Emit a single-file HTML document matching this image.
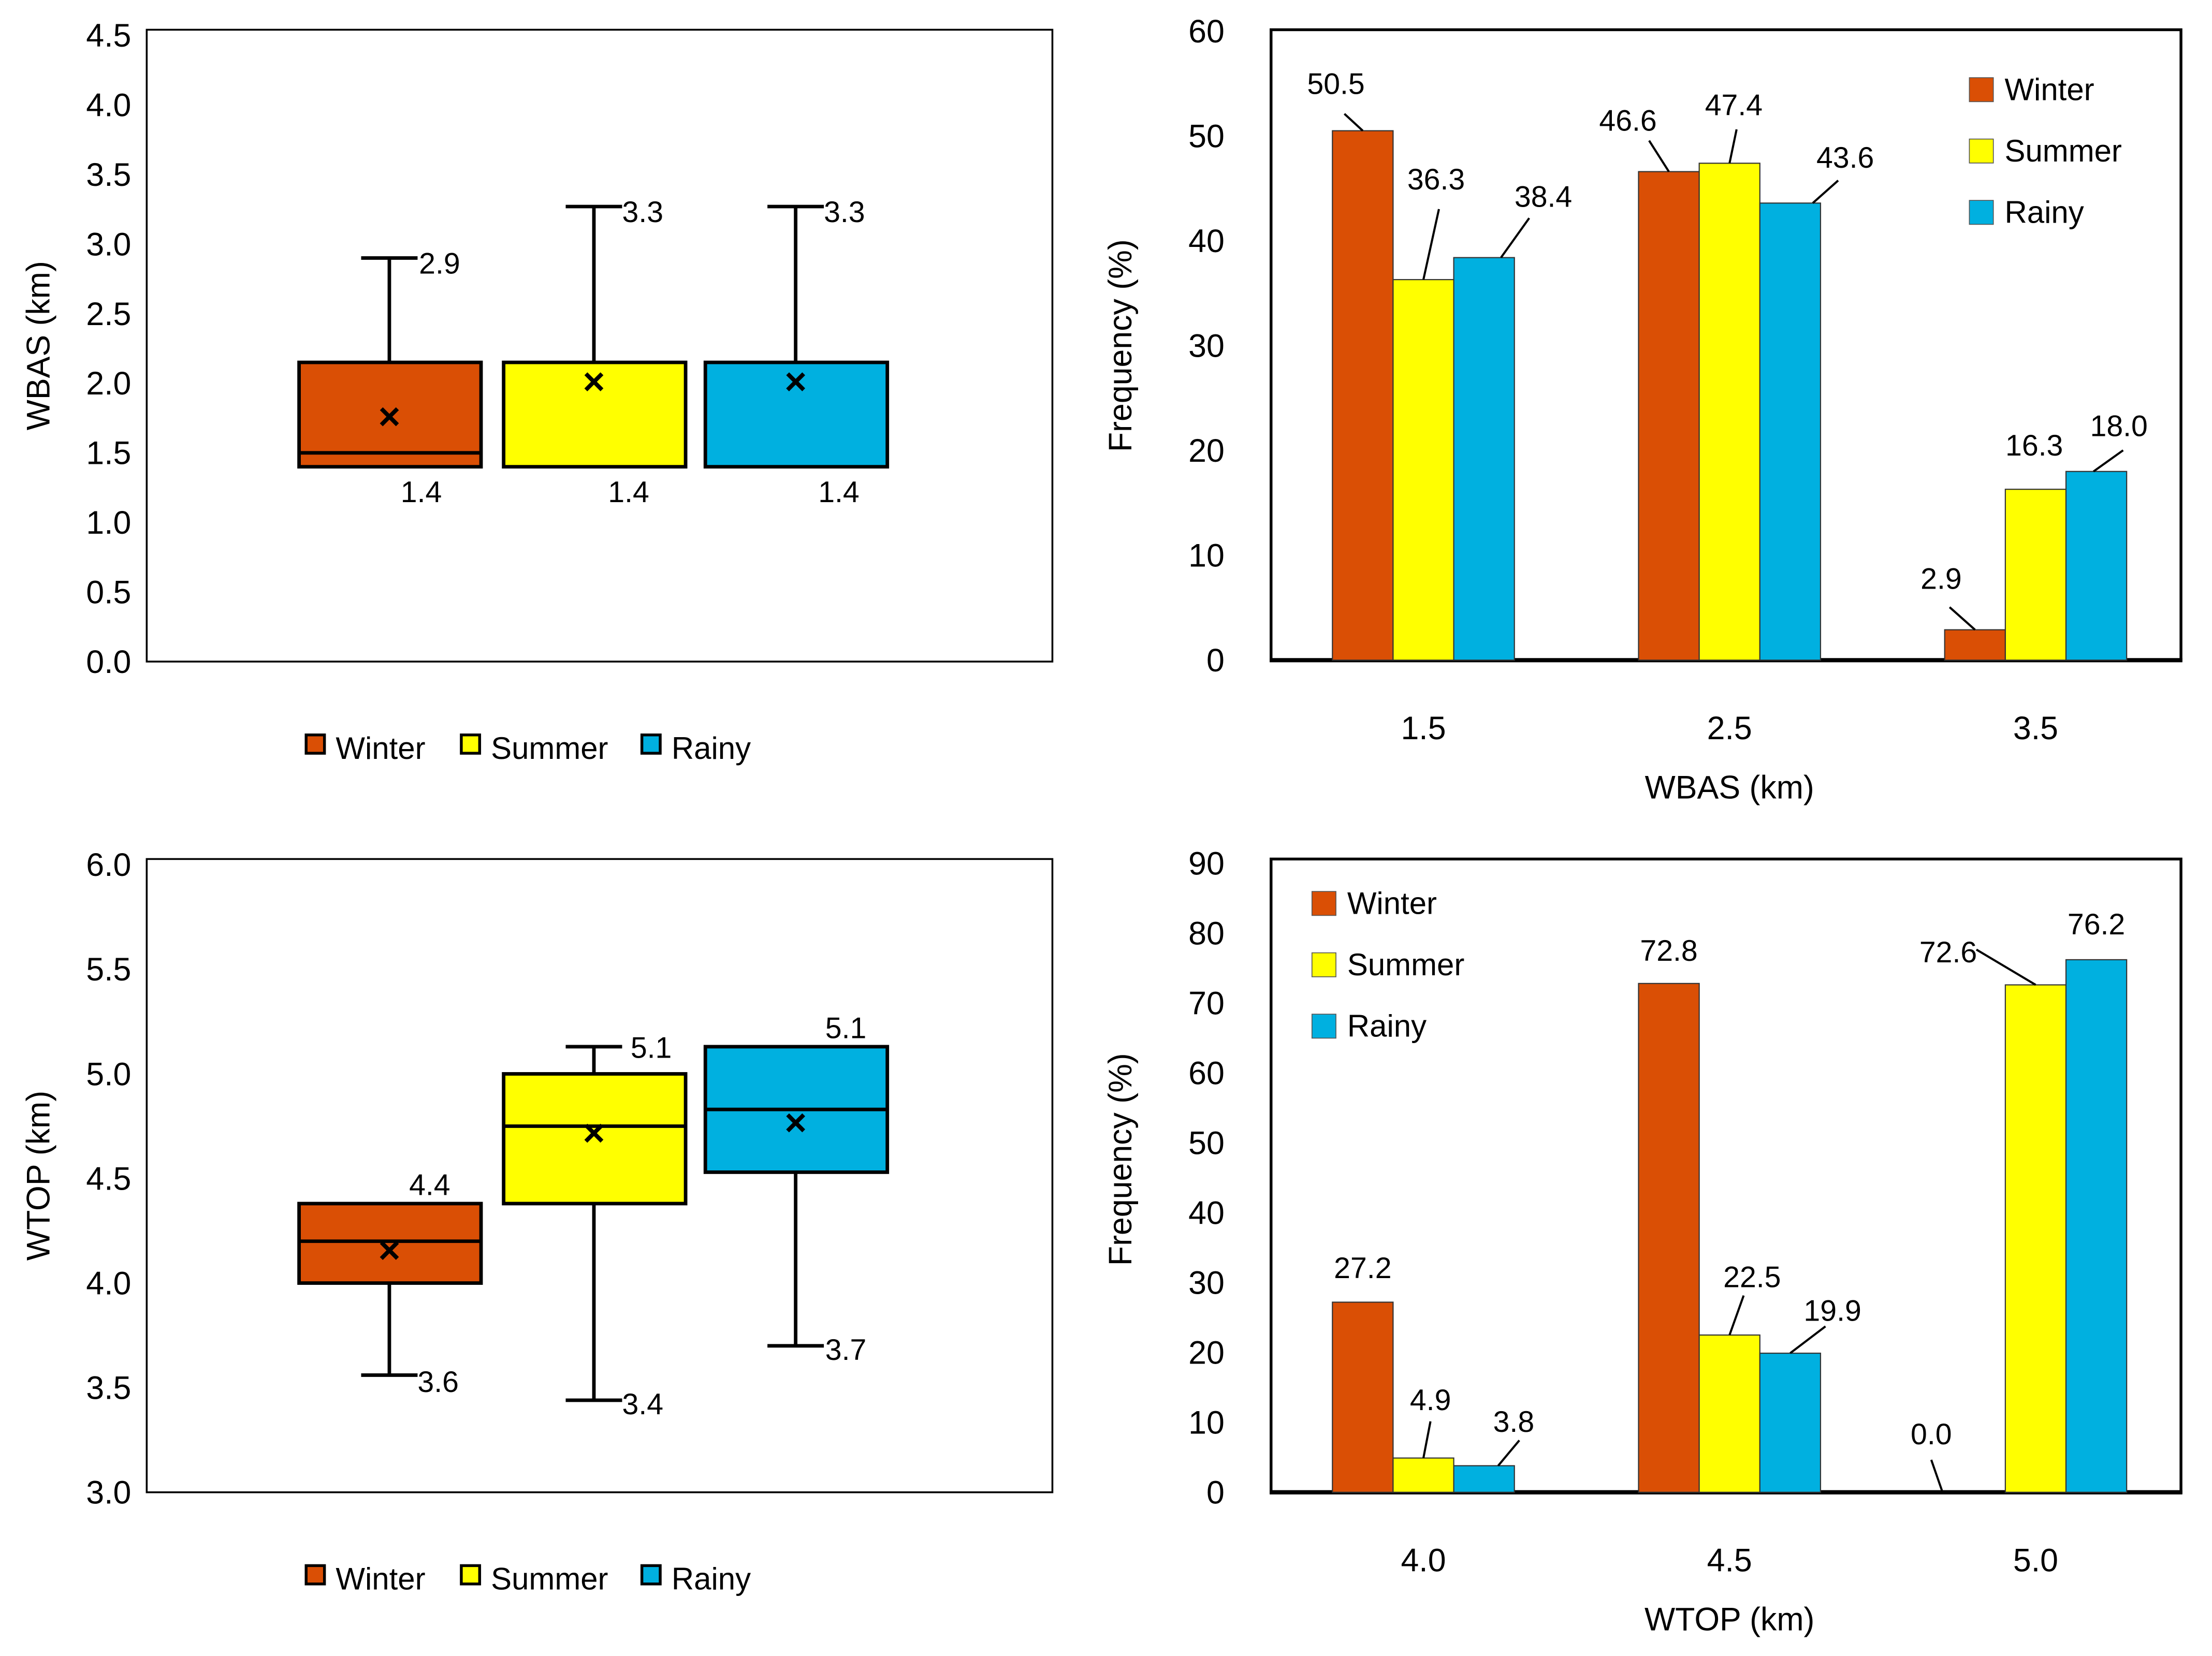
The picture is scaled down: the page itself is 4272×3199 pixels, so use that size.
<!DOCTYPE html>
<html><head><meta charset="utf-8"><style>
html,body{margin:0;padding:0;background:#fff}
svg{display:block}
text{font-family:"Liberation Sans","DejaVu Sans",sans-serif;fill:#000}
</style></head><body>
<svg id="s" width="4272" height="3199" viewBox="0 0 1568 1174" xmlns="http://www.w3.org/2000/svg"></svg>
<script>
const seasons=["Winter","Summer","Rainy"];
const colors=["#DA4F05","#FFFF00","#00B0E0"];
// box plot 1 (WBAS)
const wbasMin=[1.4,1.4,1.4],wbasQ1=[1.4,1.4,1.4],wbasMed=[1.5,2.15,2.15],wbasQ3=[2.15,2.15,2.15],wbasMax=[2.9,3.27,3.27],wbasMean=[1.75,2.0,2.0];
const wbasMaxLbl=["2.9","3.3","3.3"],wbasMinLbl=["1.4","1.4","1.4"];
const wbasTicks=[0,0.5,1,1.5,2,2.5,3,3.5,4,4.5];
// box plot 2 (WTOP)
const wtopMin=[3.56,3.44,3.7],wtopQ1=[4.0,4.38,4.53],wtopMed=[4.2,4.75,4.83],wtopQ3=[4.38,5.0,5.13],wtopMax=[4.38,5.13,5.13],wtopMean=[4.15,4.71,4.76];
const wtopMaxLbl=["4.4","5.1","5.1"],wtopMinLbl=["3.6","3.4","3.7"];
const wtopTicks=[3,3.5,4,4.5,5,5.5,6];
// bar chart 1
const barCats1=["1.5","2.5","3.5"];
const bar1Winter=[50.5,46.6,2.9],bar1Summer=[36.3,47.4,16.3],bar1Rainy=[38.4,43.6,18.0];
const bar1Ticks=[0,10,20,30,40,50,60];
// bar chart 2
const barCats2=["4.0","4.5","5.0"];
const bar2Winter=[27.2,72.8,0.0],bar2Summer=[4.9,22.5,72.6],bar2Rainy=[3.8,19.9,76.2];
const bar2Ticks=[0,10,20,30,40,50,60,70,80,90];

const S=document.getElementById('s');const NS="http://www.w3.org/2000/svg";
function el(tag,at,txt){const e=document.createElementNS(NS,tag);for(const k in at)e.setAttribute(k,at[k]);if(txt!==undefined)e.textContent=txt;S.appendChild(e);return e;}

function boxPlot(o){
  const y=v=>o.y0-(v-o.vmin)/(o.vmax-o.vmin)*(o.y0-o.y1);
  let f=el('rect',{x:104,y:o.top,width:642,height:o.y0-o.top,fill:'none',stroke:'#000','stroke-width':1.3});
  
  o.ticks.forEach(t=>{let e=el('text',{x:93,y:y(t)+8,'text-anchor':'end','font-size':23},t.toFixed(1));
    });
  let ti=el('text',{x:35,y:(o.top+o.y0)/2,'text-anchor':'middle','font-size':23,transform:`rotate(-90 35 ${(o.top+o.y0)/2})`},o.title);
  
  const cx=[276,421,564];
  for(let i=0;i<3;i++){
    const c=cx[i];
    let w=el('line',{x1:c,x2:c,y1:y(o.max[i]),y2:y(o.min[i]),stroke:'#000','stroke-width':2.5});
    
    let b=el('rect',{x:c-64,y:y(o.q3[i]),width:129,height:y(o.q1[i])-y(o.q3[i]),fill:colors[i],stroke:'#000','stroke-width':2.5});
    
    if(o.med[i]<o.q3[i]-0.01&&o.med[i]>o.q1[i]){let m=el('line',{x1:c-64,x2:c+65,y1:y(o.med[i]),y2:y(o.med[i]),stroke:'#000','stroke-width':2.5});
      }
    let mk=el('text',{x:c,y:y(o.mean[i])+8,'text-anchor':'middle','font-size':27,'font-weight':'bold'},'×');
    
    if(o.capTop[i]){let cp=el('line',{x1:c-20,x2:c+20,y1:y(o.max[i]),y2:y(o.max[i]),stroke:'#000','stroke-width':2.5});
      }
    if(o.capBot[i]){let cp=el('line',{x1:c-20,x2:c+20,y1:y(o.min[i]),y2:y(o.min[i]),stroke:'#000','stroke-width':2.5});
      }
    let l1=el('text',{x:o.maxLx[i],y:y(o.max[i])+o.maxDy[i],'font-size':21},o.maxLbl[i]);
    
    let l2=el('text',{x:o.minLx[i],y:y(o.min[i])+o.minDy[i],'font-size':21},o.minLbl[i]);
    
  }
  const lx=[217,327,455];
  for(let i=0;i<3;i++){
    let r=el('rect',{x:lx[i],y:o.legY-8,width:13,height:13,fill:colors[i],stroke:'#000','stroke-width':2});
    
    let t=el('text',{x:lx[i]+21,y:o.legY+9,'font-size':22},seasons[i]);
    
  }
}
boxPlot({name:'wbas-boxplot',top:21,y0:469,y1:25,vmin:0,vmax:4.5,ticks:wbasTicks,title:'WBAS (km)',
  min:wbasMin,q1:wbasQ1,med:wbasMed,q3:wbasQ3,max:wbasMax,mean:wbasMean,maxLbl:wbasMaxLbl,minLbl:wbasMinLbl,
  capTop:[1,1,1],capBot:[0,0,0],maxLx:[297,441,584],maxDy:[11,11,11],minLx:[284,431,580],minDy:[25,25,25],legY:529});
boxPlot({name:'wtop-boxplot',top:609,y0:1058,y1:613,vmin:3,vmax:6,ticks:wtopTicks,title:'WTOP (km)',
  min:wtopMin,q1:wtopQ1,med:wtopMed,q3:wtopQ3,max:wtopMax,mean:wtopMean,maxLbl:wtopMaxLbl,minLbl:wtopMinLbl,
  capTop:[0,1,0],capBot:[1,1,1],maxLx:[290,447,585],maxDy:[-6,8,-6],minLx:[296,441,585],minDy:[12,10,10],legY:1118});

function barChart(o){
  const y=v=>o.y0-v/o.vmax*(o.y0-o.y1);
  const cx=[1009,1226,1443],bw=43;
  let f=el('rect',{x:901,y:o.top,width:645,height:o.y0-o.top,fill:'none',stroke:'#000','stroke-width':2});
  
  let ax=el('line',{x1:900,x2:1547,y1:o.y0,y2:o.y0,stroke:'#000','stroke-width':3});
  
  o.ticks.forEach(t=>{let e=el('text',{x:868,y:y(t)+8,'text-anchor':'end','font-size':23},String(t));
    });
  let ti=el('text',{x:802,y:o.midY,'text-anchor':'middle','font-size':23,transform:`rotate(-90 802 ${o.midY})`},'Frequency (%)');
  
  const series=[o.w,o.s,o.r];
  for(let g=0;g<3;g++){
    let xl=el('text',{x:cx[g],y:o.y0+56,'text-anchor':'middle','font-size':23},o.cats[g]);
    
    for(let i=0;i<3;i++){
      const v=series[i][g];const x=cx[g]+(i-1.5)*bw;
      if(v>0){let b=el('rect',{x:x,y:y(v),width:bw,height:o.y0-y(v),fill:colors[i],stroke:'#333','stroke-width':0.8});
        }
      const L=o.lab[g*3+i];
      let t=el('text',{x:x+bw/2+L[0],y:y(v)+L[1],'text-anchor':'middle','font-size':21},v.toFixed(1));
      
      if(L[2]!==null){let ln=el('line',{x1:x+bw/2+L[2],y1:y(v)+L[3],x2:x+bw/2+L[4],y2:y(v),stroke:'#000','stroke-width':1.5});
        }
    }
  }
  let xt=el('text',{x:1226,y:o.y0+98,'text-anchor':'middle','font-size':23},o.xtitle);
  
  for(let i=0;i<3;i++){
    let r=el('rect',{x:o.legX,y:o.legY+i*43.5-8,width:17,height:17,fill:colors[i],stroke:'#555','stroke-width':0.6});
    
    let t=el('text',{x:o.legX+25,y:o.legY+i*43.5+8,'font-size':22},seasons[i]);
    
  }
}
// label offsets: [dxText, dyText, leaderStartDx, leaderStartDy, leaderEndDx]
barChart({name:'wbas-bars',top:21,y0:468,y1:22,vmax:60,ticks:bar1Ticks,cats:barCats1,w:bar1Winter,s:bar1Summer,r:bar1Rainy,
  xtitle:'WBAS (km)',midY:245,legX:1396,legY:63,
  lab:[[-19,-26,-13,-12,0],[9,-64,11,-50,0],[42,-36,32,-28,12],
       [-29,-29,-14,-22,0],[3,-34,5,-24,0],[39,-25,34,-16,16],
       [-24,-29,-18,-16,0],[-1,-24,null],[16,-25,19,-15,-2]]});
barChart({name:'wtop-bars',top:609,y0:1058,y1:612,vmax:90,ticks:bar2Ticks,cats:barCats2,w:bar2Winter,s:bar2Summer,r:bar2Rainy,
  xtitle:'WTOP (km)',midY:822,legX:930,legY:640,
  lab:[[0,-17,null],[5,-34,5,-26,0],[21,-24,25,-18,10],
       [0,-16,null],[16,-34,10,-28,0],[30,-23,25,-19,0],
       [-31,-34,-31,-23,-23],[-62,-16,-42,-25,0],[0,-18,null]]});
</script>
</body></html>
